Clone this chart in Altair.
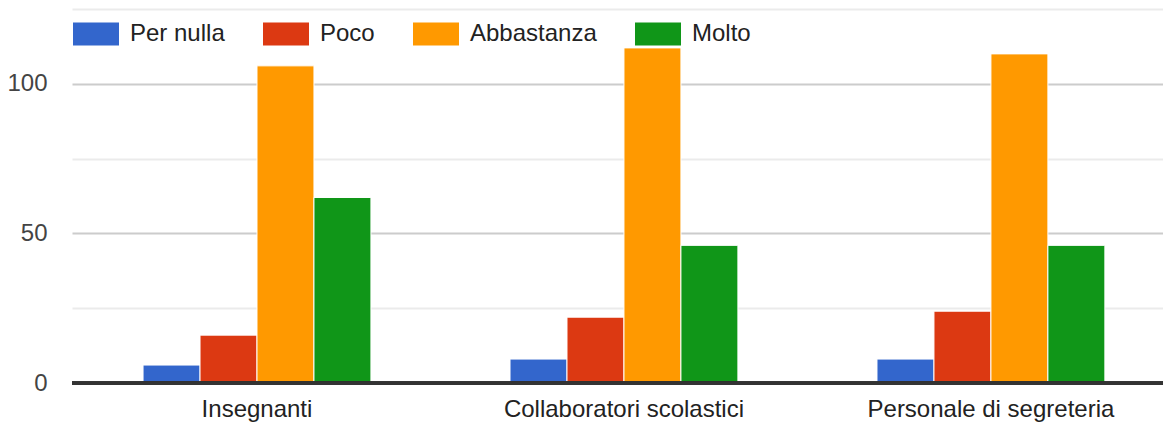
import altair as alt
import pandas as pd

categories = ["Insegnanti", "Collaboratori scolastici", "Personale di segreteria"]
series = ["Per nulla", "Poco", "Abbastanza", "Molto"]
per_nulla = [6, 8, 8]
poco = [16, 22, 24]
abbastanza = [106, 112, 110]
molto = [62, 46, 46]
colors = ["#3366cc", "#dc3912", "#ff9900", "#109618"]
y_ticks = [0, 25, 50, 75, 100, 125]

rows = []
for s, vals in zip(series, [per_nulla, poco, abbastanza, molto]):
    for c, v in zip(categories, vals):
        rows.append({"categoria": c, "serie": s, "valore": v})
df = pd.DataFrame(rows)

FONT = "Liberation Sans"
FS = 24

bars = alt.Chart(df).mark_bar(stroke="white", strokeWidth=1).encode(
    x=alt.X(
        "categoria:N",
        sort=categories,
        scale=alt.Scale(paddingInner=0.379, paddingOuter=0.176, align=0.55),
        axis=alt.Axis(
            title=None, labelAngle=0, labelFontSize=FS, labelColor="#222222",
            labelFont=FS and FONT, ticks=False, domain=False, labelPadding=14,
            grid=False, labelLimit=0,
        ),
    ),
    xOffset=alt.XOffset(
        "serie:N", sort=series,
        scale=alt.Scale(paddingInner=0, paddingOuter=0),
    ),
    y=alt.Y(
        "valore:Q",
        scale=alt.Scale(domain=[0, 125], nice=False),
        axis=alt.Axis(
            title=None, values=y_ticks,
            labelExpr="datum.value % 50 === 0 ? datum.label : ''",
            labelFontSize=FS, labelColor="#444444", labelFont=FONT,
            ticks=False, domain=False, labelPadding=25,
            gridColor={"condition": {"test": "datum.value % 50 === 0", "value": "#cccccc"}, "value": "#ebebeb"},
            gridWidth=2, gridOpacity=1,
        ),
    ),
    color=alt.Color(
        "serie:N", sort=series,
        scale=alt.Scale(domain=series, range=colors),
        legend=alt.Legend(
            title=None, orient="none", legendX=1, legendY=2, direction="horizontal",
            symbolType="M-1,-0.5H1V0.5H-1Z", symbolSize=2116, symbolStrokeWidth=0,
            symbolOpacity=1, labelFontSize=FS, labelFont=FONT, labelColor="#222222",
            columnPadding=38, labelOffset=11, labelLimit=0,
        ),
    ),
)

baseline = alt.Chart(df).mark_rule(color="#333333", strokeWidth=2.5).encode(
    y=alt.datum(0)
)

chart = alt.layer(bars, baseline).properties(
    width=1091,
    height=374,
    autosize=alt.AutoSizeParams(type="none"),
    padding={"left": 64, "top": 1, "right": 0, "bottom": 42},
).configure_view(stroke=None)

chart.save("out.html", embed_options={"renderer": "svg", "actions": False})
